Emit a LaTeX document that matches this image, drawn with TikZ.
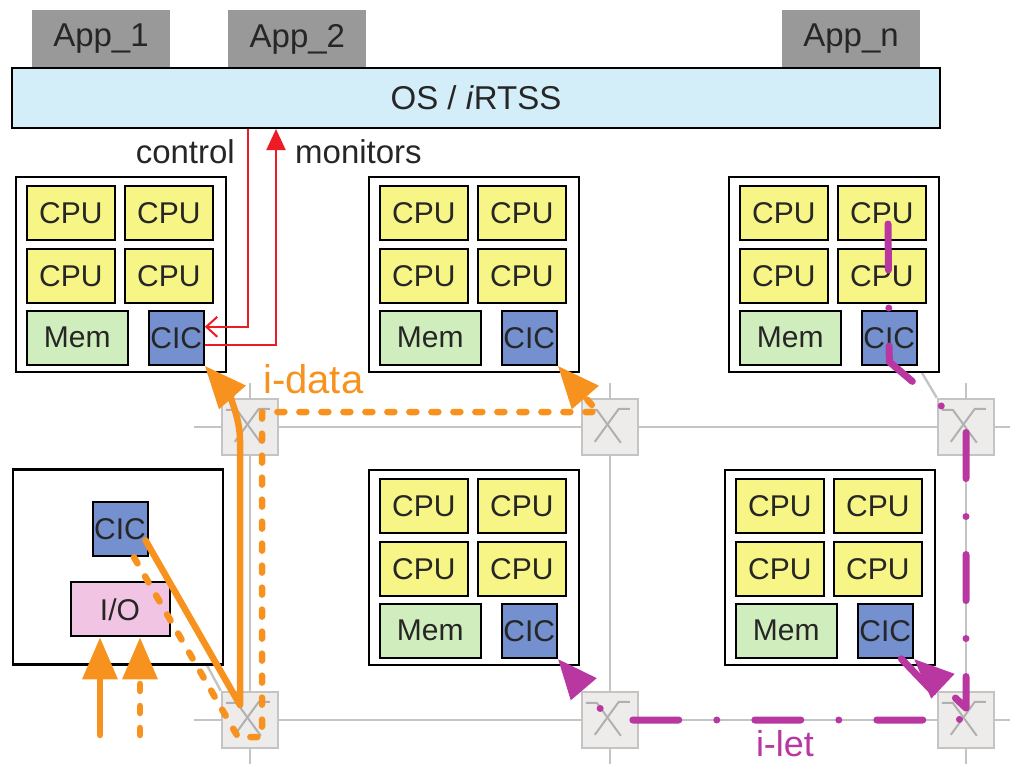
\documentclass[tikz,border=0pt]{standalone}
\usepackage{fontspec}
\setmainfont{Liberation Sans}
\usepackage{xcolor}
\usetikzlibrary{arrows.meta,positioning,backgrounds}

\definecolor{cpuyellow}{RGB}{247,245,133}
\definecolor{memgreen}{RGB}{208,237,189}
\definecolor{cicblue}{RGB}{116,144,207}
\definecolor{iopink}{RGB}{242,196,227}
\definecolor{osblue}{RGB}{211,238,249}
\definecolor{appgray}{RGB}{153,153,153}
\definecolor{netgray}{RGB}{196,196,196}
\definecolor{routerfill}{RGB}{237,236,234}
\definecolor{idataorange}{RGB}{247,146,30}
\definecolor{iletpurple}{RGB}{184,55,160}
\definecolor{ctrlred}{RGB}{237,28,36}

\newcommand{\boxfont}{\fontsize{30}{36}\selectfont}
\newcommand{\labelfont}{\fontsize{33}{40}\selectfont}
\newcommand{\pathfont}{\fontsize{40}{48}\selectfont}

\begin{document}
\begin{tikzpicture}[
    x=1pt, y=-1pt,
    tilebox/.style={draw, line width=2.4pt, fill=white, minimum width=210pt, minimum height=195pt, inner sep=0pt},
    cpu/.style={draw, line width=2pt, fill=cpuyellow, text=black!85, minimum width=88pt, minimum height=54pt, inner sep=0pt, font=\boxfont},
    mem/.style={cpu, fill=memgreen, minimum width=101pt},
    cic/.style={cpu, fill=cicblue, minimum width=55pt},
    iobox/.style={cpu, fill=iopink, minimum width=99pt},
    appbox/.style={fill=appgray, text=black!85, minimum width=138pt, minimum height=58pt, inner sep=0pt, font=\labelfont},
    osbar/.style={draw, line width=2pt, fill=osblue, text=black!85, minimum width=928pt, minimum height=60pt, inner sep=0pt, font=\labelfont},
    routerbox/.style={draw=netgray, line width=2.4pt, fill=routerfill, minimum size=56pt, inner sep=0pt},
    netline/.style={draw=netgray, line width=2.4pt},
    swline/.style={draw=netgray!90!black, line width=2pt},
    ctrlline/.style={draw=ctrlred, line width=2pt},
    idata/.style={draw=idataorange, line width=6.5pt, line cap=round, line join=round, -{Triangle[length=42pt,width=34pt]}},
    idash/.style={idata, dash pattern=on 7pt off 15pt},
    ilet/.style={draw=iletpurple, line width=7pt, line cap=round, line join=round, dash pattern=on 46pt off 38pt on 0pt off 38pt, -{Triangle[length=40pt,width=32pt]}}
]
\useasboundingbox (0,0) rectangle (1010,764);

% applications on top of the OS layer
\node[appbox] (app1) at (101,39) {App\_1};
\node[appbox, right=58pt of app1] (app2) {App\_2};
\node[appbox] (appn) at (851,39) {App\_n};
\node[osbar] (os) at (476,98) {OS / \textit{i}RTSS};

% routers
\node[routerbox] (r1) at (250,427) {};
\node[routerbox] (r2) at (610,427) {};
\node[routerbox] (r3) at (966,427) {};
\node[routerbox] (r4) at (250,720) {};
\node[routerbox] (r5) at (610,720) {};
\node[routerbox] (r6) at (966,720) {};
\foreach \r in {r1,r2,r3,r4,r5,r6}{
  \draw[swline] ([xshift=5pt,yshift=-12pt]\r.north west) -- ++(11,0) -- ++(24,33);
  \draw[swline] ([xshift=14pt,yshift=-44pt]\r.north west) -- ++(24,-33) -- ++(11,0);
}

% compute tiles
\foreach \n/\x/\y in {t1/121/274.5,t2/474/274.5,t3/834/274.5,t5/474/567.5,t6/830/567.5}{
  \node[tilebox] (\n) at (\x,\y) {};
  \node[cpu, below right=9pt and 11pt of \n.north west] (\n a) {CPU};
  \node[cpu, right=8pt of \n a] (\n b) {CPU};
  \node[cpu, below=7pt of \n a] (\n c) {CPU};
  \node[cpu, below=7pt of \n b] (\n d) {CPU};
  \node[mem, below=6pt of \n c.south west, anchor=north west] (\n m) {Mem};
  \node[cic, right=19pt of \n m] (\n x) {CIC};
}

% I/O tile
\node[tilebox] (io) at (118,567) {};
\node[cic, below=33pt of io.north, xshift=2pt] (iox) {CIC};
\node[iobox, below=24pt of iox] (iob) {I/O};

% mesh
\begin{pgfonlayer}{background}
\draw[netline] ([xshift=-56pt]r1.center) -- ([xshift=44pt]r3.center);
\draw[netline] ([xshift=-56pt]r4.center) -- ([xshift=44pt]r6.center);
\draw[netline] ([yshift=44pt]r1.center) -- ([yshift=-44pt]r4.center);
\draw[netline] ([yshift=44pt]r2.center) -- ([yshift=-44pt]r5.center);
\draw[netline] ([yshift=44pt]r3.center) -- ([yshift=-44pt]r6.center);
\draw[netline] (r1.north west) -- (t1x.south east);
\draw[netline] (r2.north west) -- (t2x.south east);
\draw[netline] (r3.north west) -- (t3x.south east);
\draw[netline] (r4.north west) -- (iox.south east);
\draw[netline] (r5.north west) -- (t5x.south east);
\draw[netline] (r6.north west) -- (t6x.south east);
\end{pgfonlayer}

% control / monitors
\draw[ctrlline, -{Straight Barb[length=11pt,width=20pt]}] (os.south -| 248,0) |- ([yshift=11pt]t1x.east);
\draw[ctrlline, -{Triangle[length=21pt,width=19pt]}] ([yshift=-7pt]t1x.east) -| (os.south -| 276,0);
\node[font=\labelfont, text=black!85, inner sep=0pt, anchor=base east] (ctrllbl) at (235,163) {control};
\node[font=\labelfont, text=black!85, inner sep=0pt, anchor=base west] (monlbl) at (295,163) {monitors};

% i-data
\coordinate (ina) at (100,735);
\coordinate (inb) at (140,735);
\draw[idata] (ina) -- (ina |- iob.south);
\draw[idash] (inb) -- (inb |- iob.south);
\draw[idata] ([xshift=-3pt,yshift=-11pt]iox.east) -- (240,705) -- (240,440)
  .. controls (240,415) and (226,390) .. (t1x.south east);
\draw[idash] ([xshift=14pt]iox.south) -- (238,737) -- (262,737) -- (262,412) -- (598,412) -- (t2x.south east);
\node[font=\pathfont, text=idataorange, inner sep=0pt, anchor=base west] (idatalbl) at (263,393) {i-data};

% i-let
\coordinate (iletsrc) at (888,224);
\draw[ilet] (iletsrc) -- ([yshift=4pt]t3x.south) -- (r3.center) -- ([yshift=12pt]r6.center) -- (t6x.south east);
\draw[ilet] ([xshift=16pt]t6x.south) -- ([xshift=-6pt]r6.center) -- (r5.center) -- (t5x.south east);
\node[font=\fontsize{36}{43}\selectfont, text=iletpurple, inner sep=0pt, anchor=base] (iletlbl) at (785,756) {i-let};
\end{tikzpicture}
\end{document}
